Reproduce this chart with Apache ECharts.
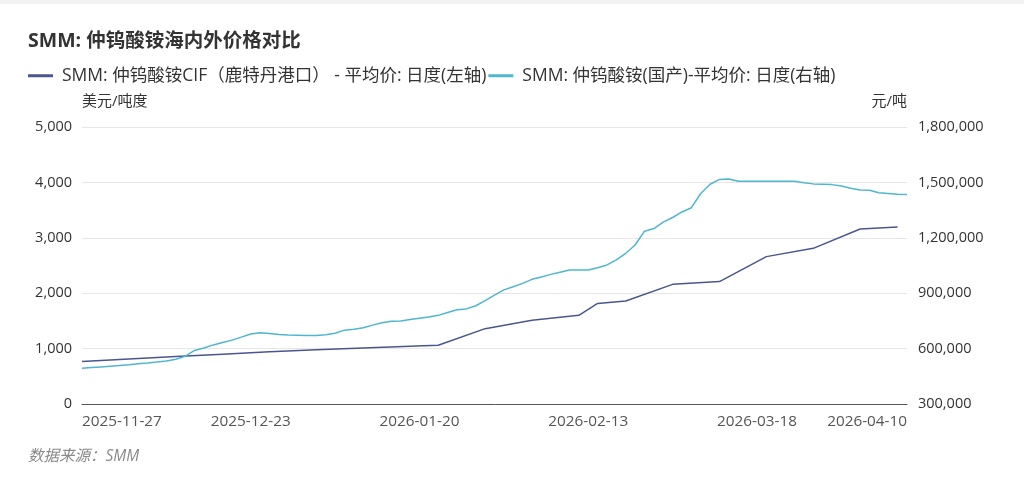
<!DOCTYPE html>
<html>
<head>
<meta charset="utf-8">
<script src="https://cdn.jsdelivr.net/npm/echarts@6/dist/echarts.min.js"></script>
<style>
html,body{margin:0;padding:0;background:#fff;}
#c{width:1024px;height:484px;}
</style>
</head>
<body>
<div id="c"></div>
<script>
var categories = [
"2025-11-27","2025-11-28","2025-12-01","2025-12-02","2025-12-03","2025-12-04","2025-12-05",
"2025-12-08","2025-12-09","2025-12-10","2025-12-11","2025-12-12",
"2025-12-15","2025-12-16","2025-12-17","2025-12-18","2025-12-19",
"2025-12-22","2025-12-23","2025-12-24","2025-12-25","2025-12-26",
"2025-12-29","2025-12-30","2025-12-31",
"2026-01-05","2026-01-06","2026-01-07","2026-01-08","2026-01-09",
"2026-01-12","2026-01-13","2026-01-14","2026-01-15","2026-01-16",
"2026-01-19","2026-01-20","2026-01-21","2026-01-22","2026-01-23",
"2026-01-26","2026-01-27","2026-01-28","2026-01-29","2026-01-30",
"2026-02-02","2026-02-03","2026-02-04","2026-02-05","2026-02-06",
"2026-02-09","2026-02-10","2026-02-11","2026-02-12","2026-02-13","2026-02-14",
"2026-02-24","2026-02-25","2026-02-26","2026-02-27",
"2026-03-02","2026-03-03","2026-03-04","2026-03-05","2026-03-06",
"2026-03-09","2026-03-10","2026-03-11","2026-03-12","2026-03-13",
"2026-03-16","2026-03-17","2026-03-18","2026-03-19","2026-03-20",
"2026-03-23","2026-03-24","2026-03-25","2026-03-26","2026-03-27",
"2026-03-30","2026-03-31","2026-04-01","2026-04-02","2026-04-03",
"2026-04-07","2026-04-08","2026-04-09","2026-04-10"
];

// 左轴：CIF 鹿特丹港口，美元/吨度（周度数据，其余为空）
var cifValues = [
765,null,null,null,null,812,null,null,null,null,857,null,null,null,null,900,null,null,null,null,
942,null,null,null,null,978,null,null,null,null,1010,null,null,null,null,1042,null,null,1060,null,
null,null,null,1360,null,null,null,null,1510,null,null,null,null,1600,null,1815,null,null,1860,null,
null,null,null,2160,null,null,null,null,2210,null,null,null,null,2660,null,null,null,null,2810,null,
null,null,null,3160,null,null,null,3195,null
];

// 右轴：国产，元/吨（日度）
var domesticValues = [
493000,497000,501000,505000,509000,513000,518000,522000,527000,533000,
542000,558000,590000,603000,620000,633000,646000,662000,679000,686000,
682000,676000,673000,672000,671000,671000,675000,683000,700000,705000,
713000,727000,740000,748000,749000,757000,764000,771000,780000,795000,
810000,815000,832000,860000,890000,918000,935000,953000,975000,988000,
1002000,1014000,1026000,1026000,1026000,1038000,1053000,1080000,1116000,1161000,
1236000,1250000,1285000,1310000,1340000,1363000,1440000,1490000,1516000,1518000,
1506000,1506000,1506000,1506000,1506000,1506000,1506000,1498000,1492000,1490000,
1488000,1480000,1468000,1459000,1457000,1444000,1440000,1436000,1434000
];

var seriesNames = [
"SMM: 仲钨酸铵CIF（鹿特丹港口） - 平均价: 日度(左轴)",
"SMM: 仲钨酸铵(国产)-平均价: 日度(右轴)"
];

var FONT = '"Open Sans", "Noto Sans CJK SC", sans-serif';
var chart = echarts.init(document.getElementById('c'));
function fmt(v){ return Number(v).toLocaleString('en-US'); }
var lastIdx = categories.length - 1;

chart.setOption({
  backgroundColor: '#fff',
  animation: false,
  textStyle: { fontFamily: FONT },
  graphic: [
    { type: 'rect', left: 0, top: 0, shape: { width: 1024, height: 4 }, style: { fill: '#f2f2f2' } },
    { type: 'text', left: 28, top: 449, style: { text: '数据来源：SMM', fill: '#8a8a8a', font: 'italic 15.5px ' + FONT } }
  ],
  title: {
    text: 'SMM: 仲钨酸铵海内外价格对比',
    left: 23, top: 27,
    textStyle: { fontSize: 19.5, fontWeight: 'bold', color: '#333', fontFamily: FONT }
  },
  legend: {
    left: 23, top: 62,
    itemWidth: 25, itemHeight: 3, itemGap: 2,
    icon: 'rect',
    textStyle: { fontSize: 17.5, color: '#333', fontFamily: FONT, padding: [0, 0, 0, 4] },
    data: seriesNames
  },
  grid: { left: 82, right: 117, top: 127, bottom: 80, containLabel: false },
  xAxis: {
    type: 'category',
    data: categories,
    boundaryGap: false,
    axisLine: { lineStyle: { color: '#555', width: 1 } },
    axisTick: { show: false },
    axisLabel: {
      color: '#555', fontSize: 15.3, margin: 10,
      interval: function(i){ return i % 18 === 0 || i === lastIdx; },
      alignMinLabel: 'left', alignMaxLabel: 'right'
    },
    splitLine: { show: false }
  },
  yAxis: [
    {
      type: 'value', min: 0, max: 5000, interval: 1000,
      name: '美元/吨度', nameLocation: 'end', nameGap: 18,
      nameTextStyle: { align: 'left', color: '#333', fontSize: 15 },
      axisLine: { show: false }, axisTick: { show: false },
      axisLabel: { color: '#333', fontSize: 14.5, margin: 10, formatter: fmt },
      splitLine: { lineStyle: { color: '#e6e6e6', width: 1.2 } }
    },
    {
      type: 'value', min: 300000, max: 1800000, interval: 300000,
      name: '元/吨', nameLocation: 'end', nameGap: 18,
      nameTextStyle: { align: 'right', color: '#333', fontSize: 15 },
      axisLine: { show: false }, axisTick: { show: false },
      axisLabel: { color: '#333', fontSize: 14.5, margin: 11, formatter: fmt },
      splitLine: { show: false }
    }
  ],
  series: [
    {
      name: seriesNames[0], type: 'line', yAxisIndex: 0,
      data: cifValues, connectNulls: true, showSymbol: false, symbol: 'none',
      lineStyle: { color: '#4a5690', width: 1.5 }, itemStyle: { color: '#4a5690' }
    },
    {
      name: seriesNames[1], type: 'line', yAxisIndex: 1,
      data: domesticValues, showSymbol: false, symbol: 'none',
      lineStyle: { color: '#4fb6cf', width: 1.5 }, itemStyle: { color: '#4fb6cf' }
    }
  ]
});
</script>
</body>
</html>
